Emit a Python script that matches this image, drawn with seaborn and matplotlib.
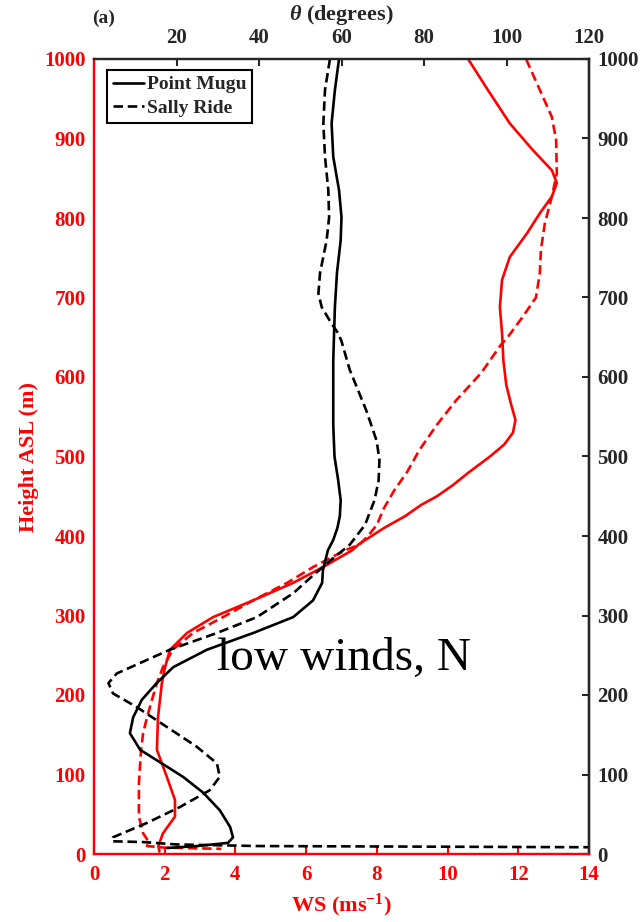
import matplotlib
matplotlib.use("Agg")
import matplotlib.pyplot as plt
import numpy as np
import pandas as pd
import seaborn as sns
from matplotlib.lines import Line2D

# ---- Wind speed profiles (m s^-1) against height ASL (m) ----
mugu_ws_h = [1000, 961, 919, 885, 860, 844, 827, 806, 781, 751, 722, 688, 655, 620, 590,
             565, 546, 530, 515, 500, 480, 464, 450, 439, 425, 410, 390, 382, 361, 341,
             319, 298, 278, 257, 235, 215, 172, 131, 97, 68, 47, 26, 10, 3]
mugu_ws = [10.58, 11.14, 11.76, 12.42, 12.95, 13.09, 12.95, 12.61, 12.25, 11.76, 11.54,
           11.48, 11.54, 11.58, 11.66, 11.8, 11.92, 11.85, 11.6, 11.2, 10.6, 10.15, 9.7,
           9.25, 8.8, 8.2, 7.5, 7.3, 6.48, 5.63, 4.5, 3.37, 2.63, 2.15, 2.01, 1.92, 1.81,
           1.78, 2.06, 2.29, 2.29, 1.95, 1.82, 1.85]

sally_ws_h = [1000, 961, 927, 898, 856, 827, 793, 760, 731, 700, 676, 650, 640, 605, 571,
              540, 508, 480, 458, 435, 414, 400, 389, 382, 361, 341, 319, 298, 278, 257,
              235, 215, 194, 172, 152, 131, 89, 47, 26, 15, 10, 8, 6.5]
sally_ws = [12.22, 12.61, 12.95, 13.07, 13.09, 12.95, 12.75, 12.64, 12.61, 12.5, 12.13,
            11.7, 11.5, 10.95, 10.25, 9.7, 9.2, 8.85, 8.5, 8.2, 8.0, 7.75, 7.5, 7.1, 6.2,
            5.46, 4.5, 3.65, 2.8, 2.23, 1.95, 1.78, 1.64, 1.5, 1.39, 1.33, 1.27, 1.27,
            1.39, 1.55, 1.5, 2.0, 3.6]

# ---- Wind direction profiles (degrees) against height ASL (m) ----
mugu_dir_h = [1000, 961, 919, 877, 835, 801, 772, 731, 688, 655, 620, 580, 540, 500, 470,
              445, 425, 410, 395, 382, 357, 341, 319, 298, 278, 257, 235, 215, 194, 172,
              152, 131, 118, 97, 77, 55, 34, 21, 14, 10, 7.5]
mugu_dir = [59.4, 58.4, 57.6, 58.0, 59.4, 60.0, 59.8, 58.9, 58.4, 58.2, 58.0, 58.0, 58.0,
            58.3, 59.2, 59.8, 59.6, 59.0, 58.0, 56.7, 55.5, 55.3, 53.1, 48.3, 38.6, 27.4,
            19.2, 15.2, 11.6, 9.5, 8.7, 11.2, 15.2, 21.6, 26.5, 30.5, 33.0, 33.7, 32.5,
            25.0, 17.7]

sally_dir_h = [1000, 961, 919, 877, 835, 801, 772, 731, 705, 688, 667, 655, 645, 609, 558,
               520, 496, 470, 445, 414, 389, 370, 350, 328, 298, 278, 257, 244, 227, 215,
               202, 185, 160, 135, 114, 97, 80, 59, 39, 21, 16, 15, 12, 10, 8.5, 8.3]
sally_dir = [57.2, 56.0, 55.6, 56.0, 56.8, 57.0, 56.4, 54.8, 54.4, 55.2, 57.6, 59.2, 60.0,
             62.0, 66.0, 68.5, 69.2, 69.0, 68.0, 65.7, 62.0, 57.5, 53.0, 48.3, 39.5, 29.8,
             18.4, 12.8, 5.5, 3.5, 4.6, 10.3, 17.6, 24.9, 29.8, 30.5, 28.0, 20.8, 12.8, 4.6,
             4.4, 12.0, 20.0, 40.0, 120.0, 126.0]

sites = ["Point Mugu", "Sally Ride"]
x_ticks_ws = list(range(0, 15, 2))
x_ticks_dir = list(range(20, 121, 20))
y_ticks = list(range(0, 1001, 100))

ws_df = pd.concat([
    pd.DataFrame({"WS": mugu_ws, "Height": mugu_ws_h, "Site": sites[0]}),
    pd.DataFrame({"WS": sally_ws, "Height": sally_ws_h, "Site": sites[1]}),
], ignore_index=True)
dir_df = pd.concat([
    pd.DataFrame({"Dir": mugu_dir, "Height": mugu_dir_h, "Site": sites[0]}),
    pd.DataFrame({"Dir": sally_dir, "Height": sally_dir_h, "Site": sites[1]}),
], ignore_index=True)

sns.set_theme(style="white")
plt.rcParams["font.family"] = ["Liberation Serif", "DejaVu Serif"]
plt.rcParams["font.weight"] = "bold"
plt.rcParams["mathtext.fontset"] = "custom"
plt.rcParams["mathtext.rm"] = "Liberation Serif:bold"
plt.rcParams["mathtext.it"] = "Liberation Serif:italic"
plt.rcParams["mathtext.bf"] = "Liberation Serif:bold"

RED = "#ff0000"
DARK = "#262626"
DASH = (3.6, 1.8)
LW = 1.9
TICK_FS = 15

fig = plt.figure(figsize=(6.44, 9.22), dpi=100)
W, H = 644.0, 922.0
x0, x1, y0, y1 = 94, 589, 59, 854
ax = fig.add_axes([x0 / W, 1 - y1 / H, (x1 - x0) / W, (y1 - y0) / H])

sns.lineplot(data=ws_df, x="WS", y="Height", style="Site", sort=False, estimator=None,
             color=RED, linewidth=LW, dashes={sites[0]: "", sites[1]: DASH},
             legend=False, ax=ax)

ax2 = ax.twiny()
sns.lineplot(data=dir_df, x="Dir", y="Height", style="Site", sort=False, estimator=None,
             color="black", linewidth=LW, dashes={sites[0]: "", sites[1]: DASH},
             legend=False, ax=ax2)

ax.set_xlim(0, 14)
ax.set_ylim(0, 1000)
ax2.set_xlim(0, 120)
ax2.set_ylim(0, 1000)

ax.set_xticks(x_ticks_ws)
ax.set_yticks(y_ticks)
ax2.set_xticks(x_ticks_dir)

ax.tick_params(axis="x", direction="in", length=5, width=1.5, colors=RED,
               labelsize=TICK_FS, pad=8, top=False)
ax.tick_params(axis="y", direction="in", length=5, width=1.5, colors=RED,
               labelsize=TICK_FS, pad=6, right=False)
ax2.tick_params(axis="x", direction="in", length=5, width=1.5, colors=DARK,
                labelsize=TICK_FS, pad=8)

sec = ax.secondary_yaxis("right")
sec.set_yticks(y_ticks)
sec.tick_params(axis="y", direction="in", length=5, width=1.5, colors=DARK,
                labelsize=TICK_FS, pad=6)
sec.spines["right"].set_color(DARK)
sec.spines["right"].set_linewidth(1.6)

for a in (ax, ax2):
    a.spines["left"].set_color(RED)
    a.spines["bottom"].set_color(RED)
    a.spines["top"].set_color(DARK)
    a.spines["right"].set_color(DARK)
    for s in a.spines.values():
        s.set_linewidth(1.6)
    a.set_ylabel("")
    a.grid(False)

ax.set_xlabel("WS (ms$^{-1}$)", color=RED, fontsize=16, fontweight="bold", labelpad=5)
ax.set_ylabel("Height ASL (m)", color=RED, fontsize=16, fontweight="bold", labelpad=4)
ax2.set_xlabel(r"$\theta$ (degrees)", color=DARK, fontsize=16, fontweight="bold",
               labelpad=6)

handles = [Line2D([], [], color="black", lw=LW, ls="-"),
           Line2D([], [], color="black", lw=LW, dashes=DASH)]
leg = ax2.legend(handles, sites, loc="upper left",
                 bbox_to_anchor=(13 / (x1 - x0), 1 - 11 / (y1 - y0)),
                 borderaxespad=0, fancybox=False, framealpha=1, edgecolor="black",
                 handlelength=1.6, handletextpad=0.15, borderpad=0.3,
                 labelspacing=0.3, prop={"weight": "bold", "size": 14})
leg.get_frame().set_linewidth(1.5)

fig.text(104 / W, 1 - 18 / H, "(a)", ha="center", va="center", fontsize=14,
         fontweight="bold", color=DARK)

ax.text((217 - x0) / (x1 - x0), (y1 - 670) / (y1 - y0), "low winds, N",
        transform=ax.transAxes, ha="left", va="baseline", fontsize=34,
        fontweight="normal", color="black", zorder=10)

fig.savefig("out.png", dpi=100)
